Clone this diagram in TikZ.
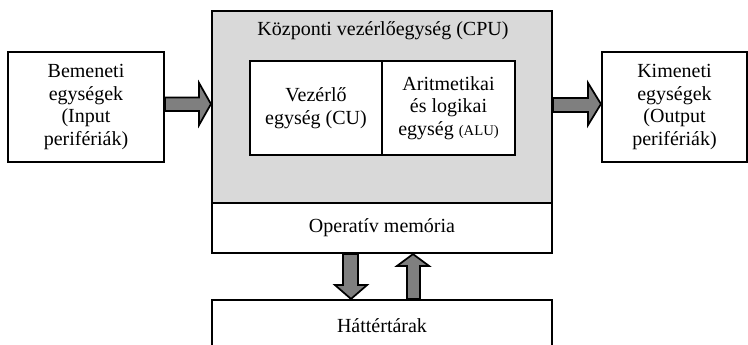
\documentclass[tikz,border=0pt]{standalone}
\usepackage{fontspec}
\setmainfont{Liberation Serif}
\usetikzlibrary{calc}
\definecolor{cpugray}{HTML}{D9D9D9}
\definecolor{arrowgray}{HTML}{7F7F7F}
\tikzset{
  box/.style={draw=black, line width=1.6pt, fill=white, inner sep=0pt, align=center,
    font=\fontsize{15}{17}\selectfont},
  blockarrow/.style={fill=arrowgray, draw=black, line width=1.3pt, line join=miter},
  small/.style={font=\fontsize{11}{13}\selectfont}
}
\begin{document}
\begin{tikzpicture}[x=0.75pt,y=-0.75pt]
\useasboundingbox (0,0) rectangle (748,344);
\begin{scope}
\clip (0,0) rectangle (748,344);
% CPU
\node[box, fill=cpugray, minimum width={340*0.75pt}, minimum height={192*0.75pt}] (cpu) at (382,107) {};
\node[font=\fontsize{15}{17}\selectfont, anchor=center] (cputitle) at (383,31) {Központi vezérlőegység (CPU)};
\node[box, minimum width={132*0.75pt}, minimum height={94*0.75pt}] (cu) at (316,108) {Vezérlő\\egység (CU)};
\node[box, minimum width={133*0.75pt}, minimum height={94*0.75pt}] (alu) at (448.5,108) {Aritmetikai\\és logikai\\egység {\fontsize{11}{13}\selectfont(ALU)}};
\node[box, minimum width={340*0.75pt}, minimum height={50*0.75pt}] (mem) at (382,228) {Operatív memória};
\node[box, minimum width={340*0.75pt}, minimum height={52*0.75pt}] (hat) at (382,326) {Háttértárak};
\node[box, minimum width={156*0.75pt}, minimum height={110*0.75pt}] (in) at (86,107) {Bemeneti\\egységek\\(Input\\perifériák)};
\node[box, minimum width={145*0.75pt}, minimum height={110*0.75pt}] (out) at (674.5,107) {Kimeneti\\egységek\\(Output\\perifériák)};
% arrows
\draw[blockarrow] ($(in.east)+(0,-9.5)$) -- ($(in.east)+(34,-9.5)$) -- ($(in.east)+(34,-24)$)
  -- ($(cpu.west)+(0,-3)$) -- ($(in.east)+(34,18)$) -- ($(in.east)+(34,4)$) -- ($(in.east)+(0,4)$) -- cycle;
\draw[blockarrow] ($(cpu.east)+(0,-9)$) -- ($(cpu.east)+(35,-9)$) -- ($(cpu.east)+(35,-24)$)
  -- ($(out.west)+(0,-3)$) -- ($(cpu.east)+(35,18)$) -- ($(cpu.east)+(35,5)$) -- ($(cpu.east)+(0,5)$) -- cycle;
\draw[blockarrow] ($(mem.south)+(-39,0)$) -- ($(mem.south)+(-39,31)$) -- ($(mem.south)+(-47,31)$)
  -- ($(hat.north)+(-31,0)$) -- ($(mem.south)+(-15,31)$) -- ($(mem.south)+(-24,31)$) -- ($(mem.south)+(-24,0)$) -- cycle;
\draw[blockarrow] ($(hat.north)+(25,0)$) -- ($(hat.north)+(25,-33)$) -- ($(hat.north)+(15,-33)$)
  -- ($(mem.south)+(31,0)$) -- ($(hat.north)+(47,-33)$) -- ($(hat.north)+(38,-33)$) -- ($(hat.north)+(38,0)$) -- cycle;
\end{scope}
\end{tikzpicture}
\end{document}
